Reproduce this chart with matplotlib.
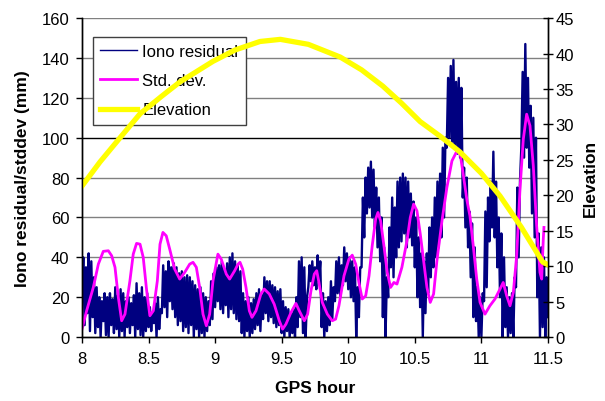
# Iono residual / std. dev. / elevation versus GPS hour
import numpy as np
import matplotlib.pyplot as plt

plt.rcParams['font.family'] = ['Liberation Sans', 'DejaVu Sans']

# Iono residual (mm), one value every 0.01 h from 8.00 to 11.50
iono_start = 8.0
iono_step = 0.01
iono = [
    18, 40, 6, 35, 12, 42, 3, 38, 10, 30,
    2, 25, 5, 20, 0, 18, 8, 22, 1, 20,
    0, 22, 6, 19, 2, 25, 4, 21, 0, 24,
    3, 22, 0, 18, 5, 20, 2, 17, 6, 21,
    0, 27, 4, 22, 1, 25, 0, 20, 3, 22,
    5, 15, 3, 12, 7, 17, 0, 20, 4, 14,
    12, 36, 15, 33, 10, 38, 18, 35, 14, 37,
    10, 35, 6, 32, 8, 33, 3, 30, 5, 31,
    2, 30, 6, 28, 0, 26, 4, 24, 0, 25,
    2, 22, 0, 20, 3, 18, 6, 28, 9, 32,
    15, 35, 18, 36, 14, 38, 12, 34, 16, 37,
    10, 40, 14, 42, 12, 38, 9, 36, 8, 33,
    2, 22, 0, 18, 3, 20, 0, 17, 2, 19,
    4, 22, 6, 24, 3, 21, 9, 30, 12, 28,
    8, 28, 10, 26, 7, 25, 5, 23, 6, 24,
    2, 18, 0, 15, 3, 14, 0, 12, 2, 14,
    0, 20, 5, 38, 10, 40, 2, 35, 0, 20,
    25, 36, 28, 38, 26, 35, 24, 41, 28, 38,
    5, 22, 0, 18, 3, 20, 6, 28, 9, 25,
    18, 38, 22, 40, 20, 36, 26, 45, 28, 42,
    24, 40, 20, 38, 18, 35, 0, 25, 10, 35,
    35, 70, 50, 80, 62, 85, 65, 88, 60, 84,
    55, 75, 45, 70, 38, 60, 10, 45, 0, 30,
    20, 55, 35, 70, 30, 65, 40, 78, 45, 80,
    48, 82, 52, 80, 45, 78, 50, 72, 46, 68,
    35, 60, 20, 50, 15, 42, 0, 38, 12, 42,
    22, 55, 30, 60, 35, 70, 40, 78, 45, 82,
    50, 95, 60, 100, 95, 130, 100, 136, 98, 139,
    95, 128, 92, 130, 90, 125, 70, 85, 55, 80,
    45, 63, 30, 57, 10, 45, 8, 25, 0, 20,
    0, 22, 18, 63, 25, 70, 48, 78, 55, 93,
    50, 78, 35, 60, 20, 52, 0, 40, 5, 25,
    0, 20, 2, 22, 0, 30, 25, 75, 40, 78,
    95, 133, 90, 147, 95, 130, 85, 116, 62, 110,
    50, 100, 20, 52, 0, 45, 5, 40, 0, 30,
    10,
]

# Std. dev. (mm)
sd_hours = [8.0, 8.035, 8.085, 8.123, 8.16, 8.198, 8.223, 8.248, 8.273, 8.298,
            8.323, 8.36, 8.385, 8.41, 8.436, 8.46, 8.486, 8.51, 8.536, 8.566,
            8.586, 8.608, 8.633, 8.659, 8.696, 8.734, 8.771, 8.809, 8.834, 8.859,
            8.884, 8.909, 8.934, 8.959, 8.984, 9.021, 9.046, 9.084, 9.109, 9.147,
            9.172, 9.187, 9.207, 9.232, 9.257, 9.277, 9.307, 9.344, 9.369, 9.407,
            9.444, 9.482, 9.507, 9.532, 9.57, 9.607, 9.632, 9.67, 9.695, 9.72,
            9.745, 9.763, 9.78, 9.805, 9.843, 9.88, 9.905, 9.93, 9.968, 10.005,
            10.03, 10.056, 10.08, 10.105, 10.131, 10.156, 10.18, 10.206, 10.223, 10.243,
            10.268, 10.293, 10.318, 10.343, 10.366, 10.403, 10.441, 10.466, 10.491, 10.516,
            10.541, 10.566, 10.591, 10.616, 10.641, 10.666, 10.704, 10.741, 10.779, 10.817,
            10.841, 10.867, 10.892, 10.914, 10.939, 10.965, 10.99, 11.027, 11.064, 11.102,
            11.14, 11.164, 11.19, 11.215, 11.24, 11.265, 11.29, 11.315, 11.34, 11.365,
            11.39, 11.415, 11.44, 11.453, 11.465, 11.47]
sd_vals = [4.0, 13.2, 24.9, 36.6, 43.0, 43.3, 40.8, 35.0, 19.9, 8.2,
           11.5, 28.2, 41.6, 47.0, 46.6, 40.0, 23.2, 10.7, 13.2, 28.2,
           46.6, 52.5, 50.8, 44.1, 34.1, 29.1, 32.4, 36.6, 37.5, 35.0,
           24.9, 11.5, 5.7, 11.5, 28.2, 41.6, 39.1, 31.6, 29.1, 33.3,
           36.6, 37.5, 34.1, 24.9, 13.2, 9.9, 13.2, 21.6, 24.1, 21.6,
           16.5, 8.2, 4.0, 6.5, 12.4, 16.9, 13.2, 8.2, 11.5, 23.2,
           31.6, 33.3, 27.4, 17.4, 11.5, 8.2, 9.0, 15.7, 30.7, 39.1,
           41.1, 36.6, 27.4, 19.1, 20.7, 30.7, 45.8, 59.2, 62.5, 58.3,
           45.8, 32.4, 24.9, 27.4, 26.6, 35.0, 48.3, 60.0, 66.7, 63.3,
           51.7, 38.3, 24.9, 17.4, 21.6, 38.3, 58.3, 75.1, 88.4, 93.4,
           91.8, 80.1, 68.4, 60.8, 45.8, 29.1, 17.4, 11.5, 15.7, 19.1,
           24.1, 27.4, 20.7, 15.7, 22.4, 40.8, 74.2, 99.3, 111.8, 106.0,
           85.9, 55.8, 32.4, 29.1, 49.1, 55.0]

# Elevation (deg)
elev_hours = [8.0, 8.135, 8.285, 8.436, 8.6, 8.736, 8.984, 9.15, 9.337, 9.49,
              9.7, 9.94, 10.1, 10.26, 10.4, 10.54, 10.7, 10.84, 11.0, 11.14,
              11.3, 11.46, 11.5]
elev_vals = [21.3, 24.7, 28.1, 31.5, 34.0, 36.0, 38.9, 40.5, 41.7, 42.0,
             41.3, 39.5, 37.7, 35.4, 33.0, 30.4, 28.2, 26.1, 23.1, 19.9,
             15.5, 10.6, 10.2]

iono_hours = iono_start + iono_step * np.arange(len(iono))

fig = plt.figure(figsize=(6.05, 4.02), dpi=100)
ax = fig.add_axes([0.1355, 0.159, 0.7702, 0.7935])
ax2 = ax.twinx()

for v in range(20, 161, 20):
    ax.axhline(v, color='black' if v == 100 else '#808080', linewidth=1, zorder=0)

l1, = ax.plot(iono_hours, iono, color='#000080', linewidth=1.7, label='Iono residual')
l2, = ax.plot(sd_hours, sd_vals, color='#FF00FF', linewidth=2.0, label='Std. dev.')
l3, = ax2.plot(elev_hours, elev_vals, color='#FFFF00', linewidth=3.8, label='Elevation')

ax.set_xlim(8, 11.5)
ax.set_ylim(0, 160)
ax2.set_ylim(0, 45)
ax.set_xticks(np.arange(8, 11.51, 0.5))
ax.set_xticklabels(['8', '8.5', '9', '9.5', '10', '10.5', '11', '11.5'])
ax.set_yticks(range(0, 161, 20))
ax2.set_yticks(range(0, 46, 5))

for a in (ax, ax2):
    a.spines['top'].set_visible(False)
    for s in ('left', 'right', 'bottom'):
        a.spines[s].set_linewidth(1.0)
ax.tick_params(axis='both', labelsize=12, direction='out', length=4, width=1)
ax.tick_params(axis='y', pad=5)
ax.tick_params(axis='x', pad=6)
ax2.tick_params(axis='y', labelsize=12, direction='inout', length=7, width=1, pad=2)

ax.set_xlabel('GPS hour', fontsize=12.5, fontweight='bold', labelpad=10)
ax.set_ylabel('Iono residual/stddev (mm)', fontsize=12.5, fontweight='bold', labelpad=8)
ax2.set_ylabel('Elevation', fontsize=12.5, fontweight='bold', labelpad=6)

# legend sits under the elevation curve, as in the original
leg = ax.legend(handles=[l1, l2, l3], loc='upper left', bbox_to_anchor=(0.0236, 0.942),
                borderaxespad=0, fontsize=12, frameon=True, fancybox=False,
                framealpha=1, edgecolor='#404040', handlelength=2.2,
                handletextpad=0.3, labelspacing=0.85, borderpad=0.45)
leg.get_frame().set_linewidth(1.0)
leg.get_lines()[0].set_linewidth(1.0)
leg.set_zorder(5)

fig.savefig('out.png', dpi=100)
